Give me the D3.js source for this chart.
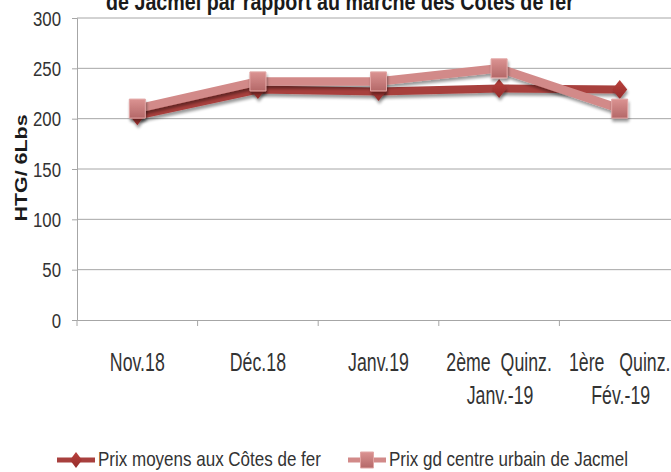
<!DOCTYPE html>
<html>
<head>
<meta charset="utf-8">
<script src="https://cdnjs.cloudflare.com/ajax/libs/d3/7.8.5/d3.min.js"></script>
<style>
  body { margin: 0; background: #fff; }
  text { font-family: "Liberation Sans", Arial, sans-serif; fill: #333; white-space: pre; }
</style>
</head>
<body>
<svg></svg>
<script>
/*
*  DATA
*/
let categories = ['Nov.18', 'Déc.18', 'Janv.19', '2ème  Quinz.', '1ère   Quinz.']
let categories2 = ['', '', '', 'Janv.-19', 'Fév.-19']
let prixCotes = [203, 229, 227, 230, 229]
let prixJacmel = [210, 237, 237, 250, 210]
let yTicks = [0, 50, 100, 150, 200, 250, 300]
let seriesNames = ['Prix moyens aux Côtes de fer', 'Prix gd centre urbain de Jacmel']
let titleText = 'de Jacmel par rapport au marché des Côtes de fer'

/*
*  RUN
*/
let width = 671,
    height = 472

let svg = d3.select('svg').attr('width', width).attr('height', height)

let x = d3.scaleBand().domain(categories).range([77, 680])
let y = d3.scaleLinear().domain([0, 300]).range([320, 18])
let cx = i => x(categories[i]) + x.bandwidth() / 2

let defs = svg.append('defs')
let shadow = defs.append('filter').attr('id', 'shadow').attr('x', '-50%').attr('y', '-50%').attr('width', '200%').attr('height', '200%')
shadow.append('feGaussianBlur').attr('in', 'SourceAlpha').attr('stdDeviation', 1.8)
shadow.append('feOffset').attr('dx', 1).attr('dy', 3).attr('result', 'b')
shadow.append('feComponentTransfer').append('feFuncA').attr('type', 'linear').attr('slope', 0.4)
let merge = shadow.append('feMerge')
merge.append('feMergeNode')
merge.append('feMergeNode').attr('in', 'SourceGraphic')

let gradSq = defs.append('linearGradient').attr('id', 'gradSq').attr('x1', 0).attr('y1', 0).attr('x2', 0).attr('y2', 1)
gradSq.append('stop').attr('offset', 0).attr('stop-color', '#db9392')
gradSq.append('stop').attr('offset', 1).attr('stop-color', '#b46868')
let gradDi = defs.append('linearGradient').attr('id', 'gradDi').attr('x1', 0).attr('y1', 0).attr('x2', 0).attr('y2', 1)
gradDi.append('stop').attr('offset', 0).attr('stop-color', '#b9413d')
gradDi.append('stop').attr('offset', 1).attr('stop-color', '#952c2a')

// narrow, tall text like the stretched original
function label(parent, tx, ty, str, size, kx, anchor) {
  return parent.append('text')
    .attr('transform', `translate(${tx},${ty}) scale(${kx},1)`)
    .attr('text-anchor', anchor || 'middle')
    .style('font-size', size + 'px')
    .text(str)
}

// title (first line lies outside the frame)
let title = label(svg, 340, 10, titleText, 24, 1)
  .style('font-weight', 'bold').style('fill', '#1a1a1a')
let tl = title.node().getComputedTextLength()
title.attr('transform', `translate(340,10) scale(${468 / tl},1)`)

// grid
svg.append('g').selectAll('line')
  .data(yTicks.filter(d => d > 0))
  .enter().append('line')
  .attr('x1', 77).attr('x2', width)
  .attr('y1', d => y(d)).attr('y2', d => y(d))
  .attr('stroke', '#a6a6a6').attr('stroke-width', 1)

// y axis
let yAxis = svg.append('g').attr('transform', 'translate(77,0)')
  .call(d3.axisLeft(y).tickValues(yTicks).tickSize(5).tickFormat(''))
yAxis.select('.domain').attr('stroke', '#a6a6a6')
yAxis.selectAll('.tick line').attr('stroke', '#a6a6a6')
let yl = svg.append('g')
yTicks.forEach(v => label(yl, 61, y(v) + 7.5, v, 21, 0.8, 'end'))

// x axis
let xAxis = svg.append('g').attr('transform', 'translate(0,320)')
  .call(d3.axisBottom(x).tickSize(0).tickFormat(''))
xAxis.select('.domain').attr('stroke', '#a6a6a6')
svg.append('g').selectAll('line')
  .data(categories)
  .enter().append('line')
  .attr('x1', d => x(d)).attr('x2', d => x(d))
  .attr('y1', 320).attr('y2', 326)
  .attr('stroke', '#a6a6a6')

let xl = svg.append('g')
categories.forEach((c, i) => {
  label(xl, cx(i), 371, c, 25, 0.71)
  if (categories2[i]) label(xl, cx(i) + 1, 404, categories2[i], 25, 0.71)
})

// y title
svg.append('text')
  .attr('transform', 'translate(27,168) rotate(-90) scale(1.3,1)')
  .attr('text-anchor', 'middle')
  .style('font-weight', 'bold').style('font-size', '16.5px').style('fill', '#1a1a1a')
  .text('HTG/ 6Lbs')

let line = d3.line().x((d, i) => cx(i)).y(d => y(d))

function diamond(sel) {
  sel.attr('d', 'M0,-9.5 L7.5,0 L0,9.5 L-7.5,0 Z').attr('fill', 'url(#gradDi)')
}
function square(sel) {
  sel.attr('d', 'M-8,-9.5 H8 V9.5 H-8 Z').attr('fill', 'url(#gradSq)').attr('stroke', '#e2a6a5').attr('stroke-width', 1)
}

// series 1
svg.append('path').datum(prixCotes)
  .attr('d', line).attr('fill', 'none')
  .attr('stroke', '#a8403e').attr('stroke-width', 8).attr('stroke-linejoin', 'round')
  .attr('filter', 'url(#shadow)')
svg.append('g').selectAll('path')
  .data(prixCotes).enter().append('path')
  .attr('transform', (d, i) => `translate(${cx(i)},${y(d)})`)
  .call(diamond).attr('filter', 'url(#shadow)')

// series 2
svg.append('path').datum(prixJacmel)
  .attr('d', line).attr('fill', 'none')
  .attr('stroke', '#d28a89').attr('stroke-width', 8.5).attr('stroke-linejoin', 'round')
  .attr('filter', 'url(#shadow)')
svg.append('g').selectAll('path')
  .data(prixJacmel).enter().append('path')
  .attr('transform', (d, i) => `translate(${cx(i)},${y(d)})`)
  .call(square).attr('filter', 'url(#shadow)')

// legend
let legend = svg.append('g').attr('transform', 'translate(0,460)')
let lx = [57, 348]
let lc = ['#a8403e', '#d28a89']
seriesNames.forEach((name, i) => {
  let g = legend.append('g').attr('transform', `translate(${lx[i]},0)`)
  g.append('line').attr('x1', 0).attr('x2', 38).attr('y1', 0).attr('y2', 0)
    .attr('stroke', lc[i]).attr('stroke-width', 5)
  let m = g.append('path').attr('transform', 'translate(19,0)')
  if (i == 0) m.call(diamond).attr('d', 'M0,-8 L6,0 L0,8 L-6,0 Z')
  else m.call(square).attr('d', 'M-6.5,-8 H6.5 V8 H-6.5 Z')
  label(g, 41, 6, name, 21, 0.81, 'start')
})
</script>
</body>
</html>
